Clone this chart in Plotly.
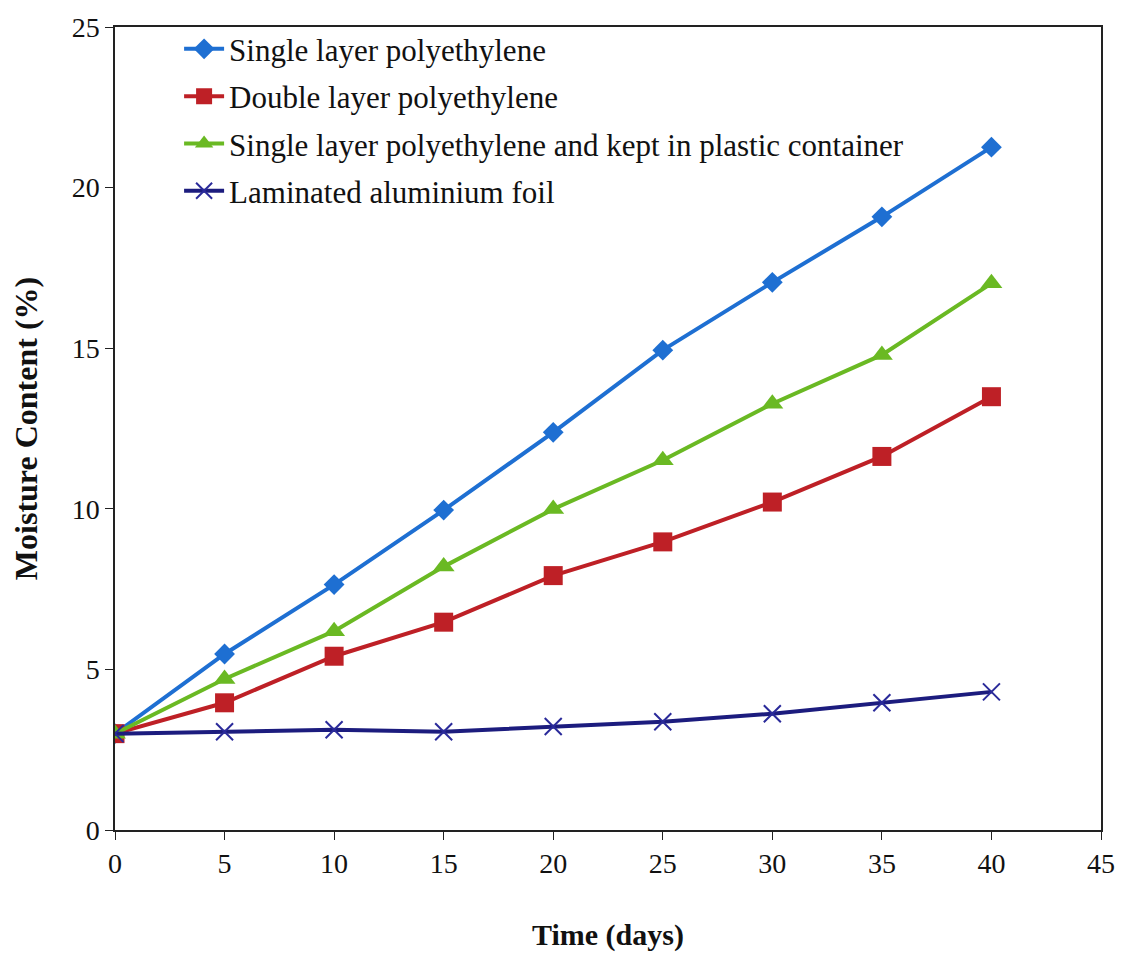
import plotly.graph_objects as go

days = [0, 5, 10, 15, 20, 25, 30, 35, 40]
single_pe = [3.0, 5.48, 7.64, 9.96, 12.38, 14.94, 17.05, 19.09, 21.26]
double_pe = [3.0, 3.96, 5.41, 6.47, 7.92, 8.97, 10.21, 11.63, 13.49]
single_pe_container = [3.0, 4.70, 6.19, 8.20, 9.99, 11.51, 13.27, 14.79, 17.02]
alu_foil = [3.0, 3.06, 3.12, 3.06, 3.22, 3.37, 3.62, 3.96, 4.30]

names = [
    "Single layer polyethylene",
    "Double layer polyethylene",
    "Single layer polyethylene and kept in plastic container",
    "Laminated aluminium foil",
]
series = [single_pe, double_pe, single_pe_container, alu_foil]
colors = ["#1E6FD2", "#BE2026", "#6AB923", "#1C1C7E"]
symbols = ["diamond", "square", "triangle-up", "x-thin"]
sizes = [16, 19, 19, 17]

fig = go.Figure()
for i, (nm, ys, c, s, sz) in enumerate(zip(names, series, colors, symbols, sizes)):
    marker = dict(symbol=s, size=sz, color=c)
    if s == "x-thin":
        marker["line"] = dict(width=2, color="#2A2A9A")
    else:
        marker["line"] = dict(width=0)
    fig.add_trace(go.Scatter(
        x=days, y=ys, name=nm, mode="lines+markers",
        line=dict(color=c, width=4),
        marker=marker,
        legendgroup=f"g{i}",
    ))

font_family = "Liberation Serif"
fig.update_layout(
    width=1127, height=958,
    margin=dict(l=115, r=25, t=22, b=126),
    paper_bgcolor="white", plot_bgcolor="white",
    font=dict(family=font_family, size=28, color="#111111"),
    showlegend=True,
    legend=dict(
        x=0.065, y=1.006, xanchor="left", yanchor="top",
        bgcolor="rgba(0,0,0,0)", borderwidth=0,
        font=dict(family=font_family, size=31, color="#111111"),
        tracegroupgap=4,
        itemwidth=40,
    ),
    xaxis=dict(
        range=[0, 45], tickvals=[0, 5, 10, 15, 20, 25, 30, 35, 40, 45],
        showgrid=False, zeroline=False,
        showline=True, linecolor="#222222", linewidth=1.5, mirror=True,
        ticks="outside", ticklen=8, tickcolor="#222222",
        tickfont=dict(family=font_family, size=28),
        title=dict(text="<b>Time (days)</b>", font=dict(family=font_family, size=30), standoff=46),
    ),
    yaxis=dict(
        range=[0, 25], tickvals=[0, 5, 10, 15, 20, 25],
        showgrid=False, zeroline=False,
        showline=True, linecolor="#222222", linewidth=1.5, mirror=True,
        ticks="outside", ticklen=8, tickcolor="#222222",
        tickfont=dict(family=font_family, size=28),
        title=dict(text="<b>Moisture Content (%)</b>", font=dict(family=font_family, size=32), standoff=24),
    ),
)

fig.write_html("out.html")
